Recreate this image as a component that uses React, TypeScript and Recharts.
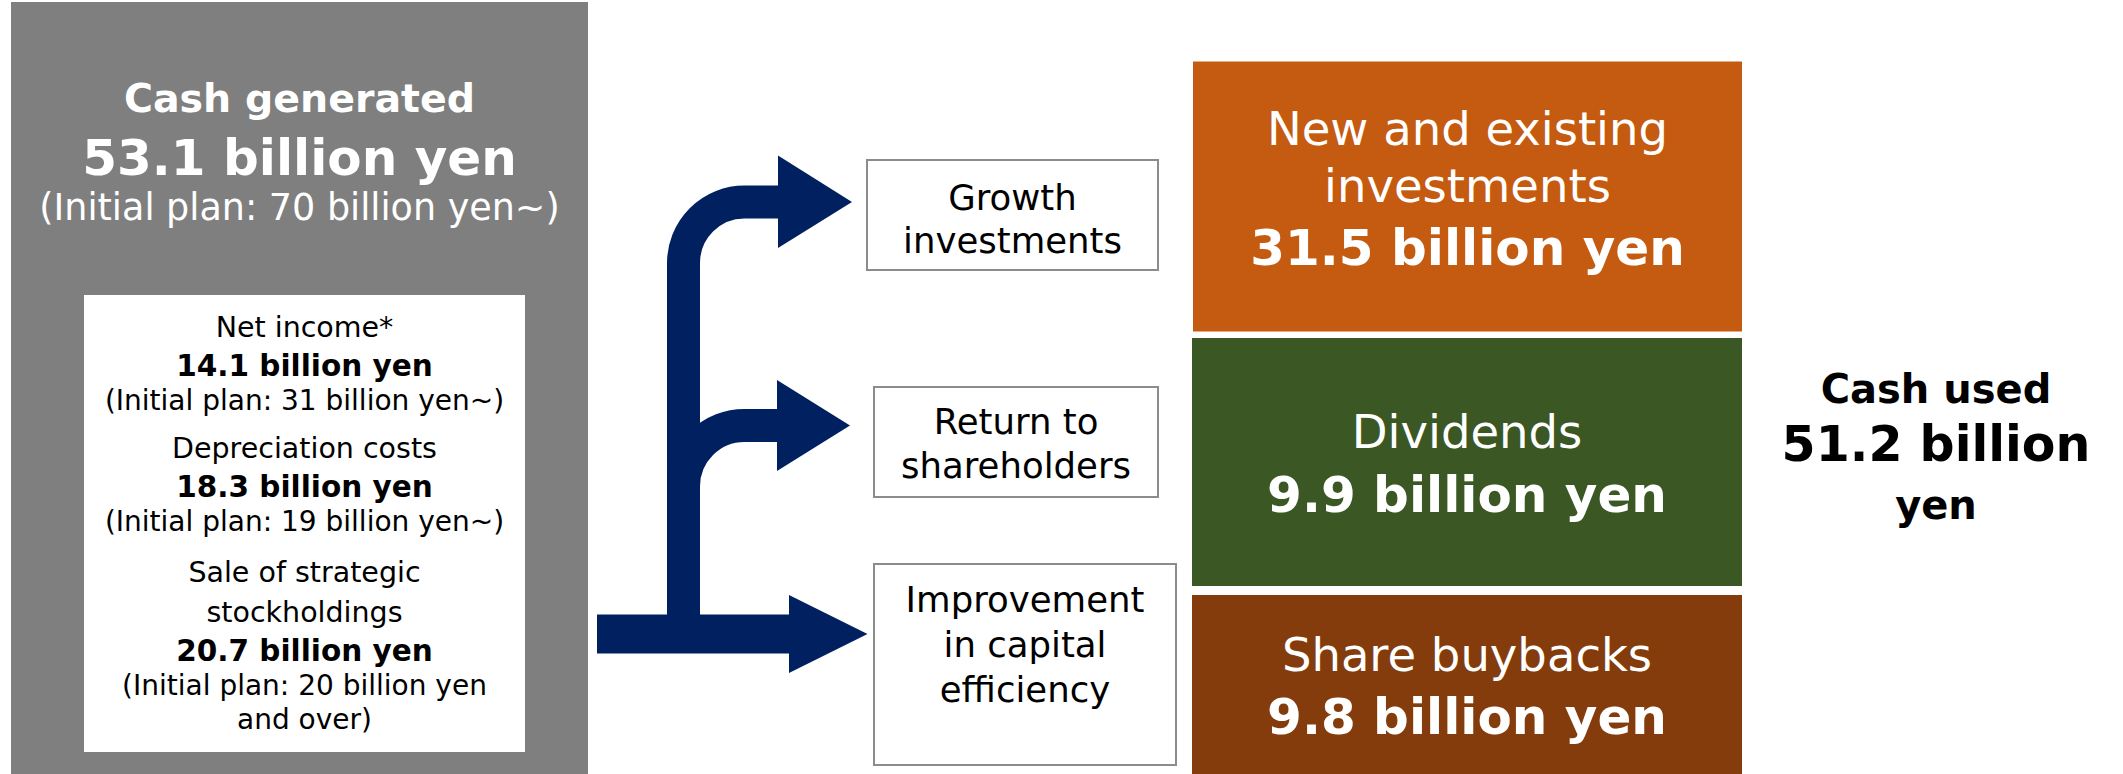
import React from 'react';
import { ComposedChart, XAxis, YAxis, ReferenceArea } from 'recharts';

// Cash generated vs. cash used — a flow diagram laid out on a pixel-scaled number plane.

const W = 2123;
const H = 774;

// ---- data ----
const generatedTitle = 'Cash generated';
const generatedTotal = 53.1;
const generatedPlan = '(Initial plan: 70 billion yen~)';

const sourceLabels = [['Net income*'], ['Depreciation costs'], ['Sale of strategic', 'stockholdings']];
const sourceAmounts = [14.1, 18.3, 20.7];
const sourcePlans = [
  ['(Initial plan: 31 billion yen~)'],
  ['(Initial plan: 19 billion yen~)'],
  ['(Initial plan: 20 billion yen', 'and over)'],
];

const purposeLabels = [['Growth', 'investments'], ['Return to', 'shareholders'], ['Improvement', 'in capital', 'efficiency']];

const useLabels = [['New and existing', 'investments'], ['Dividends'], ['Share buybacks']];
const useAmounts = [31.5, 9.9, 9.8];

const usedTitle = 'Cash used';
const usedTotal = 51.2;

// ---- layout (x1, y1, x2, y2 in chart units = px) ----
const greyBox = [11, 2, 588, 774];
const whiteBox = [84, 295, 525, 752];
const sourceStarts = [337, 458, 582];
const purposeBoxes = [
  [867, 160, 1158, 270],
  [874, 387, 1158, 497],
  [874, 564, 1176, 765],
];
const purposeBaselines = [[209.5, 253], [434, 478], [612, 657, 701.5]];
const useBoxes = [
  [1193, 61.5, 1742, 331.5],
  [1192, 338, 1742, 586],
  [1192, 595, 1742, 774],
];
const useBaselines = [[145, 202, 265], [448, 512], [671, 734]];
const usedArea = [1760, 360, 2110, 530];
const arrowArea = [590, 150, 870, 680];

const grey = '#7f7f7f';
const navy = '#002060';
const useColors = ['#c55a11', '#3b5723', '#843c0c'];
const font = "'DejaVu Sans', Verdana, sans-serif";

const fmt = (v: number) => `${v.toFixed(1)} billion yen`;

type Mapper = (v: number) => number;

function area(key: string, r: number[], draw: (mx: Mapper, my: Mapper) => React.ReactNode) {
  return (
    <ReferenceArea
      key={key}
      x1={r[0]}
      x2={r[2]}
      y1={r[1]}
      y2={r[3]}
      ifOverflow="visible"
      shape={(p: any) => {
        const mx = (v: number) => p.x + ((v - r[0]) / (r[2] - r[0])) * p.width;
        const my = (v: number) => p.y + ((v - r[1]) / (r[3] - r[1])) * p.height;
        return <g>{draw(mx, my)}</g>;
      }}
    />
  );
}

function txt(key: string, x: number, y: number, s: string, size: number, bold: boolean, fill: string) {
  return (
    <text
      key={key}
      x={x}
      y={y}
      textAnchor="middle"
      fontFamily={font}
      fontSize={size}
      fontWeight={bold ? 'bold' : 'normal'}
      fill={fill}
    >
      {s}
    </text>
  );
}

export default function App() {
  return (
    <div style={{ position: 'absolute', left: 0, top: 0, width: W, height: H, background: '#fff' }}>
      <ComposedChart width={W} height={H} margin={{ top: 0, right: 0, bottom: 0, left: 0 }}>
        <XAxis type="number" dataKey="x" domain={[0, W]} hide allowDataOverflow />
        <YAxis type="number" dataKey="y" domain={[0, H]} reversed hide allowDataOverflow />

        {/* source panel */}
        {area('grey', greyBox, (mx, my) => {
          const cx = mx((greyBox[0] + greyBox[2]) / 2);
          return (
            <>
              <rect x={mx(greyBox[0])} y={my(greyBox[1])} width={mx(greyBox[2]) - mx(greyBox[0])} height={my(greyBox[3]) - my(greyBox[1])} fill={grey} />
              {txt('t1', cx, my(112), generatedTitle, 39.5, true, '#fff')}
              {txt('t2', cx, my(175), fmt(generatedTotal), 50, true, '#fff')}
              {txt('t3', cx, my(220), generatedPlan, 36.5, false, '#fff')}
            </>
          );
        })}
        {area('white', whiteBox, (mx, my) => {
          const cx = mx((whiteBox[0] + whiteBox[2]) / 2);
          const items: React.ReactNode[] = [];
          sourceLabels.forEach((lines, i) => {
            let b = sourceStarts[i];
            lines.forEach((l, j) => {
              if (j > 0) b += 40;
              items.push(txt(`l${i}${j}`, cx, my(b), l, 28.5, false, '#000'));
            });
            b += 39;
            items.push(txt(`a${i}`, cx, my(b), fmt(sourceAmounts[i]), 29.5, true, '#000'));
            sourcePlans[i].forEach((l, j) => {
              b += 34;
              items.push(txt(`p${i}${j}`, cx, my(b), l, 28, false, '#000'));
            });
          });
          return (
            <>
              <rect x={mx(whiteBox[0])} y={my(whiteBox[1])} width={mx(whiteBox[2]) - mx(whiteBox[0])} height={my(whiteBox[3]) - my(whiteBox[1])} fill="#fff" />
              {items}
            </>
          );
        })}

        {/* arrows */}
        {area('arrows', arrowArea, (mx, my) => {
          const r = mx(744.5) - mx(683.5);
          const branch = (yh: number) =>
            `M ${mx(683.5)} ${my(640)} L ${mx(683.5)} ${my(yh + 61)} A ${r} ${r} 0 0 1 ${mx(744.5)} ${my(yh)} L ${mx(780)} ${my(yh)}`;
          const head = (x0: number, x1: number, y0: number, y1: number, yt: number) =>
            `${mx(x0)},${my(y0)} ${mx(x1)},${my(yt)} ${mx(x0)},${my(y1)}`;
          return (
            <>
              <path d={branch(202)} stroke={navy} strokeWidth={33} fill="none" />
              <path d={branch(425.4)} stroke={navy} strokeWidth={33} fill="none" />
              <rect x={mx(597)} y={my(614.5)} width={mx(790) - mx(597)} height={my(653.5) - my(614.5)} fill={navy} />
              <polygon points={head(778, 852, 155.5, 248, 202)} fill={navy} />
              <polygon points={head(777, 850, 380, 471, 425.5)} fill={navy} />
              <polygon points={head(789, 867.5, 595, 673, 634)} fill={navy} />
            </>
          );
        })}

        {/* purposes */}
        {purposeBoxes.map((b, i) =>
          area(`purpose${i}`, b, (mx, my) => (
            <>
              <rect x={mx(b[0])} y={my(b[1])} width={mx(b[2]) - mx(b[0])} height={my(b[3]) - my(b[1])} fill="#fff" stroke="#8c8c8c" strokeWidth={2} />
              {purposeLabels[i].map((l, j) => txt(`pl${j}`, mx((b[0] + b[2]) / 2), my(purposeBaselines[i][j]), l, 35.5, false, '#000'))}
            </>
          ))
        )}

        {/* uses */}
        {useBoxes.map((b, i) =>
          area(`use${i}`, b, (mx, my) => {
            const cx = mx((b[0] + b[2]) / 2);
            const bl = useBaselines[i];
            return (
              <>
                <rect x={mx(b[0])} y={my(b[1])} width={mx(b[2]) - mx(b[0])} height={my(b[3]) - my(b[1])} fill={useColors[i]} />
                {useLabels[i].map((l, j) => txt(`ul${j}`, cx, my(bl[j]), l, 46.5, false, '#fff'))}
                {txt('ua', cx, my(bl[bl.length - 1]), fmt(useAmounts[i]), 50, true, '#fff')}
              </>
            );
          })
        )}

        {area('used', usedArea, (mx, my) => (
          <>
            {txt('u1', mx(1936), my(403), usedTitle, 40, true, '#000')}
            {txt('u2', mx(1936), my(461), `${usedTotal.toFixed(1)} billion`, 49, true, '#000')}
            {txt('u3', mx(1936), my(519), 'yen', 40, true, '#000')}
          </>
        ))}
      </ComposedChart>
    </div>
  );
}
